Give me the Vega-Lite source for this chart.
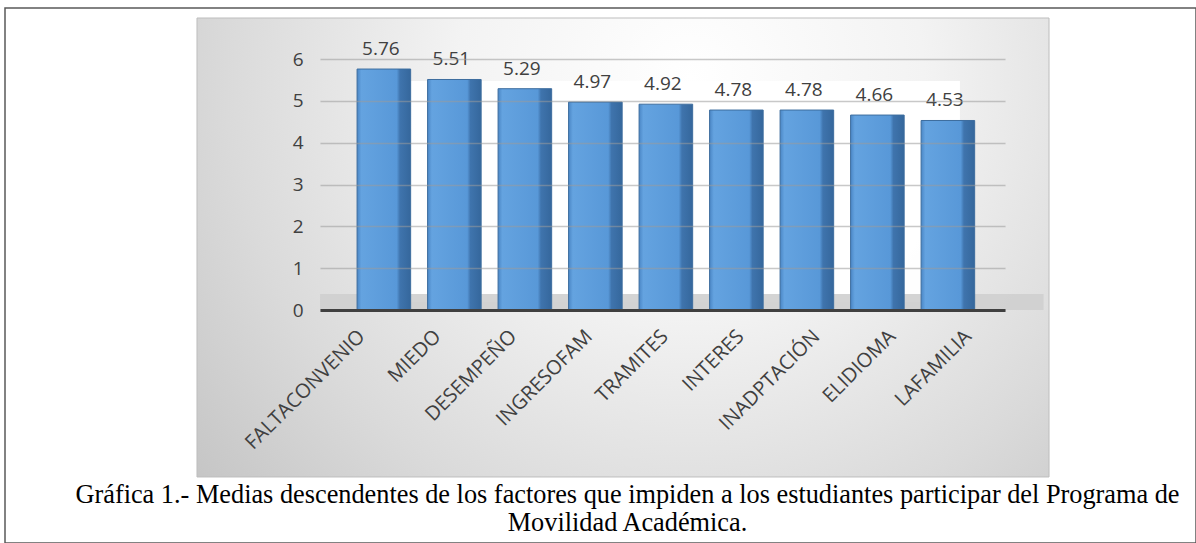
{
  "$schema": "https://vega.github.io/schema/vega-lite/v6.json",
  "width": 1191,
  "height": 535,
  "padding": {"left": 5, "top": 8, "right": 0, "bottom": 0},
  "autosize": {"type": "none"},
  "background": "white",
  "config": {
    "view": {"stroke": "#595959", "strokeWidth": 1.5, "fill": "white"}
  },
  "title": {
    "text": [
      "Gráfica 1.- Medias descendentes de los factores que impiden a los estudiantes participar del Programa de",
      "Movilidad Académica."
    ],
    "orient": "bottom",
    "frame": "group",
    "anchor": "middle",
    "offset": -61,
    "dx": 27,
    "font": "Liberation Serif",
    "fontSize": 26.3,
    "fontWeight": "normal",
    "color": "#000000",
    "lineHeight": 28
  },
  "datasets": {
    "medias": [
      {"factor": "FALTACONVENIO", "media": 5.76},
      {"factor": "MIEDO", "media": 5.51},
      {"factor": "DESEMPEÑO", "media": 5.29},
      {"factor": "INGRESOFAM", "media": 4.97},
      {"factor": "TRAMITES", "media": 4.92},
      {"factor": "INTERES", "media": 4.78},
      {"factor": "INADPTACIÓN", "media": 4.78},
      {"factor": "ELIDIOMA", "media": 4.66},
      {"factor": "LAFAMILIA", "media": 4.53}
    ]
  },
  "resolve": {"scale": {"x": "independent", "y": "independent"}},
  "layer": [
    {
      "data": {"values": [{}]},
      "layer": [
        {
          "mark": {
            "type": "rect",
            "stroke": "#bdbdbd",
            "strokeWidth": 1,
            "fill": {
              "gradient": "radial",
              "x1": 0.58, "y1": 0.3, "r1": 0,
              "x2": 0.58, "y2": 0.3, "r2": 0.78,
              "stops": [
                {"offset": 0, "color": "#ffffff"},
                {"offset": 0.35, "color": "#f3f3f3"},
                {"offset": 0.7, "color": "#dadada"},
                {"offset": 1, "color": "#c2c2c2"}
              ]
            }
          },
          "encoding": {
            "x": {"datum": 0.1612, "type": "quantitative", "scale": {"domain": [0, 1], "nice": false, "zero": false}, "axis": null},
            "x2": {"datum": 0.8766},
            "y": {"datum": 0.0187, "type": "quantitative", "scale": {"domain": [0, 1], "nice": false, "zero": false, "reverse": true}, "axis": null},
            "y2": {"datum": 0.8766}
          }
        },
        {
          "mark": {"type": "rect", "fill": "#ffffff", "opacity": 0.95},
          "encoding": {
            "x": {"datum": 0.3149, "type": "quantitative"},
            "x2": {"datum": 0.8018},
            "y": {"datum": 0.1364, "type": "quantitative"},
            "y2": {"datum": 0.5495}
          }
        },
        {
          "mark": {"type": "rect", "fill": "#cfcfcf", "opacity": 0.9},
          "encoding": {
            "x": {"datum": 0.2645, "type": "quantitative"},
            "x2": {"datum": 0.8720},
            "y": {"datum": 0.5346, "type": "quantitative"},
            "y2": {"datum": 0.5645}
          }
        }
      ]
    },
    {
      "data": {"name": "medias"},
      "layer": [
        {
          "mark": {
            "type": "bar",
            "stroke": "#3d6d9e",
            "strokeWidth": 1,
            "fill": {
              "gradient": "linear",
              "x1": 0, "y1": 0, "x2": 1, "y2": 0,
              "stops": [
                {"offset": 0, "color": "#4a86c5"},
                {"offset": 0.08, "color": "#64a3e0"},
                {"offset": 0.74, "color": "#5898d8"},
                {"offset": 0.8, "color": "#3f74ad"},
                {"offset": 1, "color": "#35679c"}
              ]
            }
          },
          "encoding": {
            "x": {
              "field": "factor",
              "type": "nominal",
              "sort": null,
              "scale": {"range": [315, 1000], "paddingInner": 0.24, "paddingOuter": 0.478, "align": 0.55},
              "axis": {
                "orient": "bottom",
                "offset": -233,
                "zindex": 1,
                "title": null,
                "ticks": false,
                "grid": false,
                "domainColor": "#404040",
                "domainWidth": 3,
                "labelAngle": -45,
                "labelAlign": "right",
                "labelBaseline": "middle",
                "labelPadding": 23,
                "labelFont": "Open Sans",
                "labelFontSize": 20,
                "labelColor": "#404040",
                "labelOverlap": false,
                "labelBound": false,
                "labelOffset": {
                  "condition": [
                    {"test": "datum.value === 'FALTACONVENIO'", "value": -22},
                    {"test": "datum.value === 'MIEDO'", "value": -16.7},
                    {"test": "datum.value === 'DESEMPEÑO'", "value": -11.4},
                    {"test": "datum.value === 'INGRESOFAM'", "value": -6.1},
                    {"test": "datum.value === 'TRAMITES'", "value": -0.8},
                    {"test": "datum.value === 'INTERES'", "value": 4.5},
                    {"test": "datum.value === 'INADPTACIÓN'", "value": 9.8},
                    {"test": "datum.value === 'ELIDIOMA'", "value": 15.1}
                  ],
                  "value": 20.4
                }
              }
            },
            "y": {
              "field": "media",
              "type": "quantitative",
              "scale": {"domain": [0, 6], "range": [302, 51], "nice": false},
              "axis": {
                "orient": "left",
                "offset": -315,
                "zindex": 1,
                "title": null,
                "values": [0, 1, 2, 3, 4, 5, 6],
                "format": "d",
                "ticks": false,
                "domain": false,
                "grid": true,
                "gridColor": "#9a9a9a",
                "gridOpacity": 0.55,
                "gridWidth": 1.5,
                "labelPadding": 17,
                "labelFont": "Open Sans",
                "labelFontSize": 19,
                "labelColor": "#404040"
              }
            }
          }
        },
        {
          "mark": {
            "type": "text",
            "baseline": "middle",
            "align": "center",
            "dy": -20,
            "dx": -3,
            "font": "Open Sans",
            "fontSize": 19,
            "fill": "#404040"
          },
          "encoding": {
            "x": {"field": "factor", "type": "nominal", "sort": null},
            "y": {"field": "media", "type": "quantitative"},
            "text": {"field": "media", "type": "quantitative", "format": ".2f"}
          }
        }
      ]
    }
  ]
}
